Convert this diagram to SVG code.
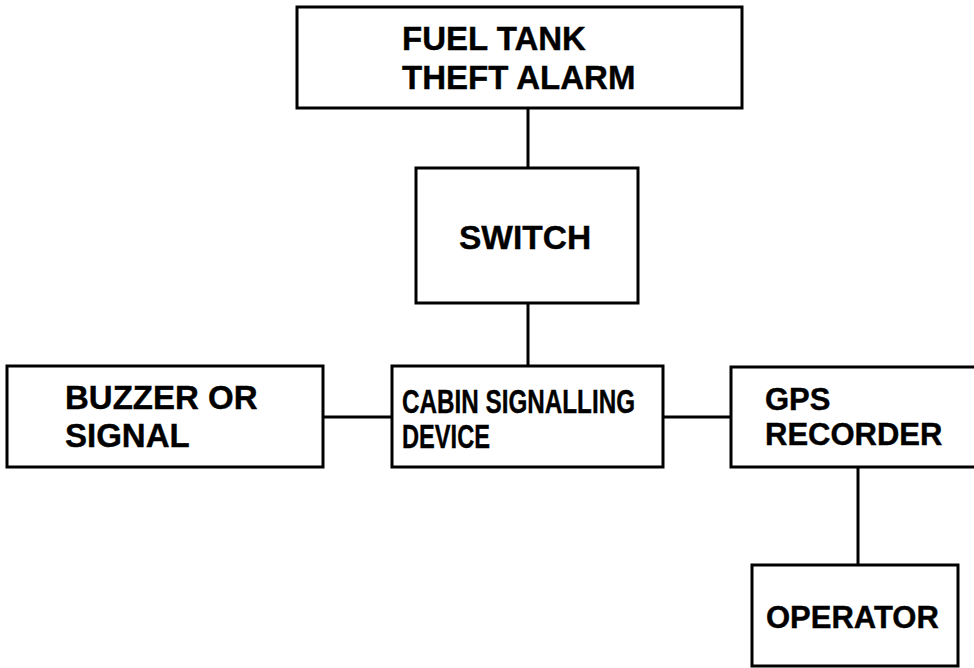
<svg xmlns="http://www.w3.org/2000/svg" width="974" height="668" viewBox="0 0 974 668">
<style>
.box{fill:#fff;stroke:#000;stroke-width:3}
.t{font-family:"Liberation Sans",Arial,sans-serif;font-weight:bold;font-size:33px;fill:#000;stroke:#000;stroke-width:0.4}
.c{stroke:#000;stroke-width:3;fill:none}
</style>
<rect width="974" height="668" fill="#fff"/>
<g id="connectors">
<line class="c" x1="528" y1="108" x2="528" y2="168"/>
<line class="c" x1="528" y1="303" x2="528" y2="366"/>
<line class="c" x1="323" y1="417" x2="392" y2="417"/>
<line class="c" x1="663" y1="417" x2="731" y2="417"/>
<line class="c" x1="858" y1="467" x2="858" y2="565"/>
</g>
<g id="fuel-tank">
<rect class="box" x="297" y="7" width="445" height="101"/>
<text class="t" x="402" y="50">FUEL TANK</text>
<text class="t" x="402" y="89">THEFT ALARM</text>
</g>
<g id="switch">
<rect class="box" x="416" y="168" width="222" height="135"/>
<text class="t" x="459" y="249" style="font-size:33.5px">SWITCH</text>
</g>
<g id="buzzer">
<rect class="box" x="7" y="366" width="316" height="101"/>
<text class="t" x="65" y="409">BUZZER OR</text>
<text class="t" x="65" y="447">SIGNAL</text>
</g>
<g id="cabin">
<rect class="box" x="392" y="366" width="271" height="101"/>
<text class="t" x="402" y="413" textLength="233" lengthAdjust="spacingAndGlyphs" style="font-size:33px">CABIN SIGNALLING</text>
<text class="t" x="402" y="448" textLength="88" lengthAdjust="spacingAndGlyphs" style="font-size:33px">DEVICE</text>
</g>
<g id="gps">
<rect class="box" x="731" y="367" width="260" height="100"/>
<text class="t" x="765" y="410" style="font-size:31px">GPS</text>
<text class="t" x="765" y="445" style="font-size:31px">RECORDER</text>
</g>
<g id="operator">
<rect class="box" x="752" y="565" width="206" height="101"/>
<text class="t" x="766" y="628" style="font-size:31px">OPERATOR</text>
</g>
</svg>
